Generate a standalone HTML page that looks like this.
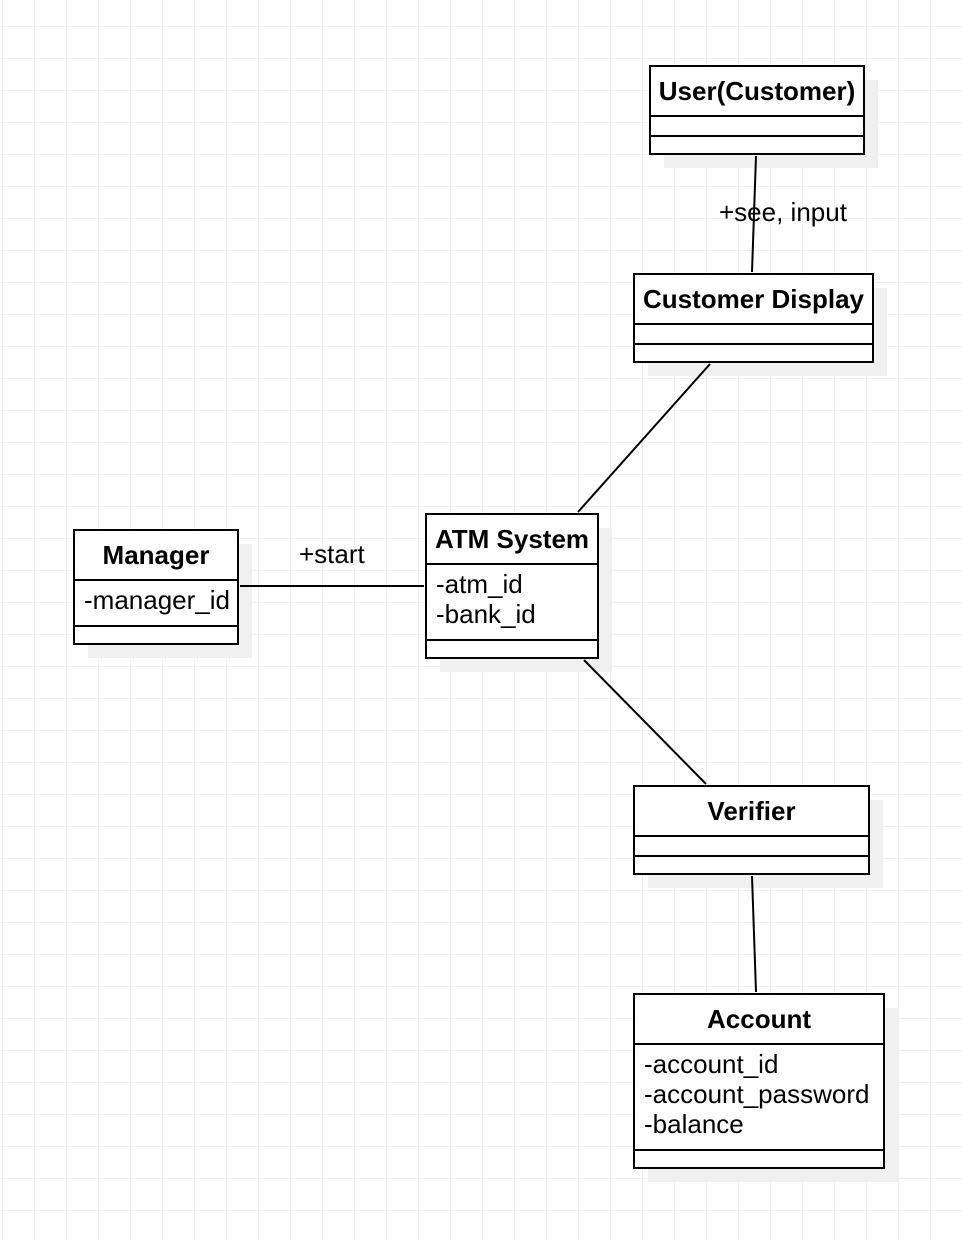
<!DOCTYPE html>
<html><head><meta charset="utf-8"><style>
html,body{margin:0;padding:0;background:#fff}
svg{display:block}
text{font-family:"Liberation Sans",Arial,sans-serif;font-size:26px;fill:#000}
.b{font-weight:bold}
</style></head><body>
<svg width="962" height="1240" viewBox="0 0 962 1240" xmlns="http://www.w3.org/2000/svg">
<defs><pattern id="g" x="2" y="26" width="32" height="32" patternUnits="userSpaceOnUse">
<path d="M0 0H32M0 0V32" stroke="#ececec" stroke-width="1.5" fill="none"/></pattern></defs>
<rect width="962" height="1240" fill="url(#g)"/>
<g fill="#f0f0f0">
<rect x="664" y="80" width="214" height="88"/>
<rect x="648" y="288" width="239" height="88"/>
<rect x="88" y="544" width="164" height="114"/>
<rect x="440" y="528" width="172" height="144"/>
<rect x="648" y="800" width="235" height="88"/>
<rect x="648" y="1008" width="250" height="174"/>
</g>
<g fill="#fff" stroke="#000" stroke-width="2">
<rect x="650" y="66" width="214" height="88"/><path d="M650 116H864M650 136H864"/>
<rect x="634" y="274" width="239" height="88"/><path d="M634 324H873M634 344H873"/>
<rect x="74" y="530" width="164" height="114"/><path d="M74 580H238M74 626H238"/>
<rect x="426" y="514" width="172" height="144"/><path d="M426 564H598M426 640H598"/>
<rect x="634" y="786" width="235" height="88"/><path d="M634 836H869M634 856H869"/>
<rect x="634" y="994" width="250" height="174"/><path d="M634 1044H884M634 1150H884"/>
</g>
<g stroke="#000" stroke-width="2" fill="none">
<path d="M756 156L752 272"/><path d="M710 364L578 512"/><path d="M240 586H424"/>
<path d="M584 660L706 784"/><path d="M752 876L756 992"/>
</g>
<text class="b" x="757" y="100" text-anchor="middle">User(Customer)</text>
<text class="b" x="753.5" y="308" text-anchor="middle">Customer Display</text>
<text class="b" x="156" y="564" text-anchor="middle">Manager</text>
<text class="b" x="512" y="548" text-anchor="middle">ATM System</text>
<text class="b" x="751.5" y="820" text-anchor="middle">Verifier</text>
<text class="b" x="759" y="1028" text-anchor="middle">Account</text>
<text x="84" y="609">-manager_id</text>
<text x="436" y="593">-atm_id</text>
<text x="436" y="623">-bank_id</text>
<text x="644" y="1073">-account_id</text>
<text x="644" y="1103">-account_password</text>
<text x="644" y="1133">-balance</text>
<text x="719" y="221">+see, input</text>
<text x="299" y="563">+start</text>
</svg>
</body></html>
